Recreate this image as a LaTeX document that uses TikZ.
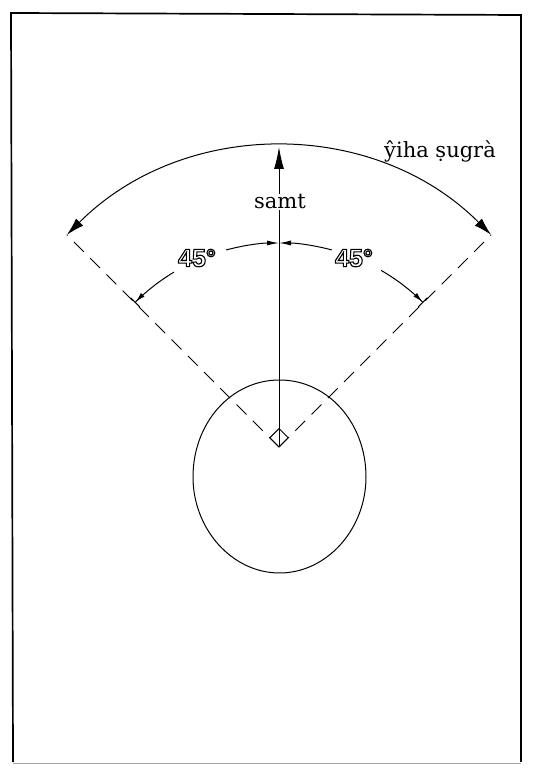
\documentclass[tikz,border=0pt]{standalone}
\usepackage{fontspec}
\setmainfont{DejaVu Serif}
\setsansfont{Liberation Sans}
\usetikzlibrary{arrows.meta}
\newcommand{\outlinetext}[1]{\special{pdf:literal direct 1 Tr 1.1 w}#1\special{pdf:literal direct 0 Tr}}
\begin{document}
\begin{tikzpicture}[x=1pt,y=1pt,
  thinline/.style={line width=1pt},
  dashline/.style={line width=1pt, dash pattern=on 14pt off 9pt},
  label/.style={font=\fontsize{21}{24}\selectfont, inner sep=1pt},
  anglelabel/.style={font=\sffamily\bfseries\fontsize{25}{28}\selectfont, inner sep=0pt}]
\useasboundingbox (0,0) rectangle (543,768);
% frame
\draw[line width=1.7pt] (13,6) -- (11,755) -- (521,753) -- (521,6);
\draw[line width=0.5pt, black!35] (13,5) -- (521,5);
% apex
\coordinate (O) at (279,321);
\coordinate (L) at ([shift={(135:300)}]O);
\coordinate (R) at ([shift={(45:300)}]O);
\coordinate (T) at ([shift={(90:300)}]O);
% head
\draw[thinline] (279.5,388) .. controls (328,388) and (366,345) .. (366,291)
  .. controls (366,239) and (327,195) .. (279.5,195)
  .. controls (232,195) and (193,239) .. (193,291)
  .. controls (193,345) and (231,388) .. (279.5,388);
% dashed sides
\draw[dashline] (O) -- (L);
\draw[dashline] (O) -- (R);
% right angle mark
\draw[line width=0.9pt] (O) -- ++(45:13) -- ++(135:13) -- ++(225:13) -- cycle;
% big arc
\draw[thinline, {Latex[length=18pt,width=10pt]}-{Latex[length=18pt,width=10pt]}] (L) arc[start angle=135, end angle=45, radius=300];
% samt arrow
\draw[thinline, -{Latex[length=22pt,width=10pt]}] (O) -- (T);
\node[label, fill=white] (samt) at (280,566) {samt};
\node[label] (jiha) at (440,617) {ŷiha ṣugrà};
% small angle arcs
\draw[thinline, -{Latex[length=10pt,width=5pt]Bar[width=13pt,line width=1.2pt]}] ([shift={(121:204)}]O) arc[start angle=121, end angle=135, radius=204];
\draw[thinline, -{Latex[length=12pt,width=5pt]}] ([shift={(105:204)}]O) arc[start angle=105, end angle=90, radius=204];
\draw[thinline, -{Latex[length=12pt,width=5pt]}] ([shift={(75:204)}]O) arc[start angle=75, end angle=90, radius=204];
\draw[thinline, -{Latex[length=10pt,width=5pt]Bar[width=13pt,line width=1.2pt]}] ([shift={(60:204)}]O) arc[start angle=60, end angle=45, radius=204];
\node[anglelabel] (a1) at (197,510) {\outlinetext{45°}};
\node[anglelabel] (a2) at (354,510) {\outlinetext{45°}};
\end{tikzpicture}
\end{document}
